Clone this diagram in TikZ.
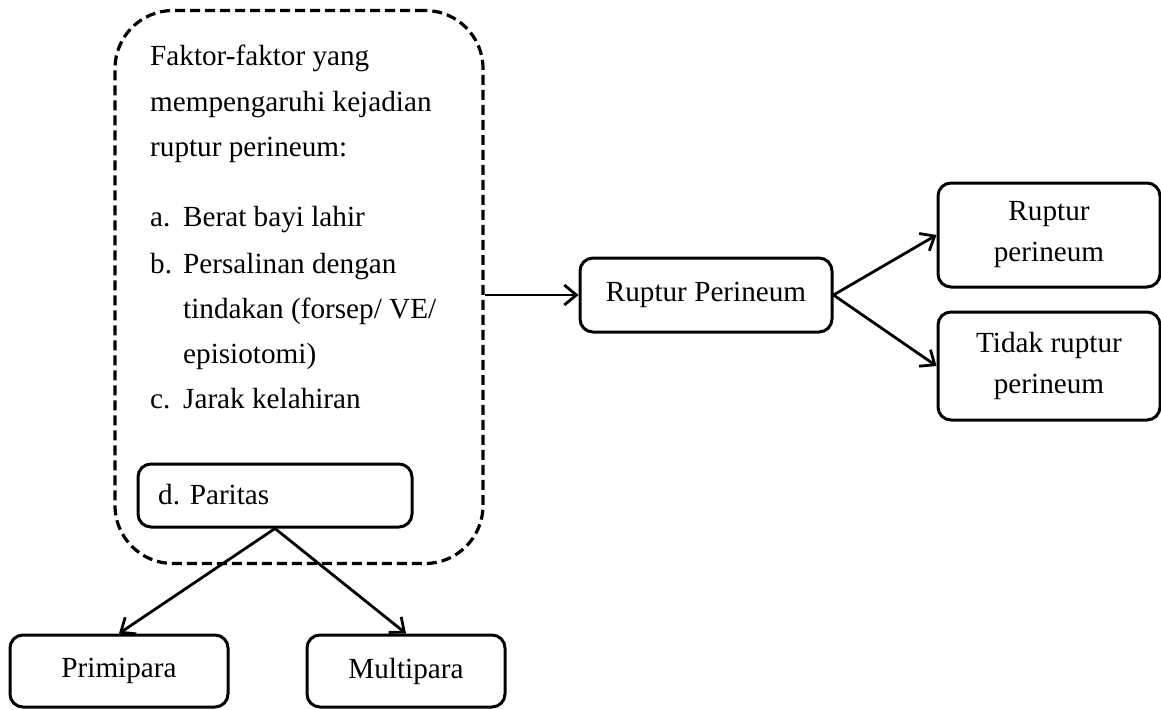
\documentclass[tikz,border=0pt]{standalone}
\usepackage{fontspec}
\setmainfont{Liberation Serif}
\usetikzlibrary{arrows.meta}
\tikzset{
  box/.style={draw, line width=3pt, rounded corners=13pt, inner sep=0pt, align=center},
  txt/.style={anchor=base west, inner sep=0pt},
  conn/.style={line width=2.8pt, -{Straight Barb[length=12pt,width=20pt,line width=2.8pt]}},
  every node/.style={font=\fontsize{29.2}{41}\selectfont}
}
\begin{document}
\begin{tikzpicture}[x=1pt,y=-1pt]
\useasboundingbox (0,0) rectangle (1161,709);
% dashed container
\node[draw, line width=3.2pt, dash pattern=on 10pt off 5pt, rounded corners=58pt,
      minimum width=368pt, minimum height=553pt, inner sep=0pt] (factors) at (299,287) {};
\node[txt] (t1) at (150,66) {Faktor-faktor yang};
\node[txt] (t2) at (150,111) {mempengaruhi kejadian};
\node[txt] (t3) at (150,156) {ruptur perineum:};
\node[txt] (t4) at (150,226) {\makebox[33pt][l]{a.}Berat bayi lahir};
\node[txt] (t5) at (150,273) {\makebox[33pt][l]{b.}Persalinan dengan};
\node[txt] (t6) at (183,318) {tindakan (forsep/ VE/};
\node[txt] (t7) at (183,363) {episiotomi)};
\node[txt] (t8) at (150,408) {\makebox[33pt][l]{c.}Jarak kelahiran};
% boxes
\node[box, minimum width=274pt, minimum height=63pt] (paritas) at (275,495.5) {};
\node[txt] (pt) at (158,504) {d. Paritas};
\node[box, minimum width=218pt, minimum height=72pt] (primi) at (119,671) {Primipara};
\node[box, minimum width=198pt, minimum height=72pt] (multi) at (406,671) {Multipara};
\node[box, minimum width=252pt, minimum height=74pt] (rp) at (706,295) {Ruptur Perineum};
\node[box, minimum width=222pt, minimum height=104pt] (r1) at (1049,235) {Ruptur\\perineum};
\node[box, minimum width=222pt, minimum height=108pt] (r2) at (1049,366) {Tidak ruptur\\perineum};
% connectors
\draw[conn] (factors.east |- rp.west) -- (rp.west);
\draw[conn] (paritas.south) -- (primi.north);
\draw[conn] (paritas.south) -- (multi.north);
\draw[conn] (rp.east) -- (r1.west);
\draw[conn] (rp.east) -- (r2.west);
\end{tikzpicture}
\end{document}
